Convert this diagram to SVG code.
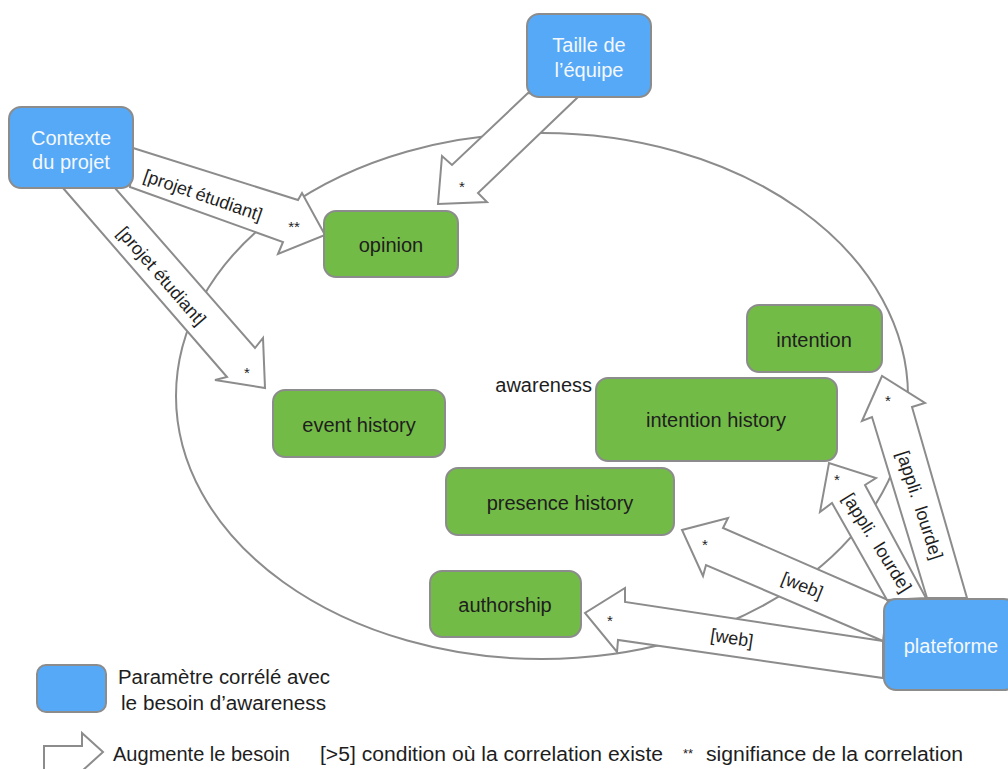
<svg xmlns="http://www.w3.org/2000/svg" width="1008" height="769" viewBox="0 0 1008 769">
  <style>
    .param { fill: #56A9F6; stroke: #8C8C8C; stroke-width: 2; }
    .aw { fill: #73BB47; stroke: #8C8C8C; stroke-width: 2; }
    .arrow { fill: #FFFFFF; stroke: #8C8C8C; stroke-width: 2; stroke-linejoin: miter; }
    .pt { font-family: "Liberation Sans", Arial, sans-serif; font-size: 20px; fill: #F4F8FD; text-anchor: middle; }
    .at { font-family: "Liberation Sans", Arial, sans-serif; font-size: 20px; fill: #1E1E1E; text-anchor: middle; }
    .lbl { font-family: "Liberation Sans", Arial, sans-serif; font-size: 18px; fill: #1E1E1E; text-anchor: middle; }
    .star { font-family: "Liberation Sans", Arial, sans-serif; font-size: 15px; fill: #1E1E1E; text-anchor: middle; }
    .leg { font-family: "Liberation Sans", Arial, sans-serif; font-size: 20px; fill: #1E1E1E; }
  </style>

  <rect width="1008" height="769" fill="#FFFFFF"/>

  <!-- awareness domain -->
  <ellipse id="awareness-domain" cx="542" cy="396" rx="366" ry="263" fill="none" stroke="#8C8C8C" stroke-width="2"/>
  <text class="at" x="592" y="392" style="text-anchor:end">awareness</text>

  <!-- block arrows -->
  <g id="connectors">
    <!-- Contexte du projet -> opinion -->
    <polygon class="arrow" points="133,148 298,200 302,193 325,235 278,254 283,242 130,187"/>
    <text class="lbl" transform="translate(201,201) rotate(19)">[projet étudiant]</text>
    <text class="star" x="294" y="232">**</text>

    <!-- Contexte du projet -> event history -->
    <polygon class="arrow" points="63,188 227,377 215,380 265,388 263,338 255,348 115,188"/>
    <text class="lbl" transform="translate(157,280) rotate(49)">[projet étudiant]</text>
    <text class="star" x="247" y="378">*</text>

    <!-- Taille de l'équipe -> opinion -->
    <polygon class="arrow" points="528,93 452,165 442,156 438,204 487,202 478,193 578,97"/>
    <text class="star" x="462" y="192">*</text>

    <!-- plateforme -> authorship -->
    <polygon class="arrow" points="883,641 625,602 625,588 585,613 617,652 618,640 883,678"/>
    <text class="lbl" transform="translate(731,644) rotate(8.5)">[web]</text>
    <text class="star" x="610" y="626">*</text>

    <!-- plateforme -> presence history -->
    <polygon class="arrow" points="888,600 723,528 728,518 682,530 703,576 706,565 883,641"/>
    <text class="lbl" transform="translate(800,591) rotate(22)">[web]</text>
    <text class="star" x="705" y="550">*</text>

    <!-- plateforme -> intention history -->
    <polygon class="arrow" points="887,600 832,503 820,512 829,463 876,478 865,485 926,598"/>
    <text class="lbl" transform="translate(872,546) rotate(58)">[appli.&#160; lourde]</text>
    <text class="star" x="837" y="485">*</text>

    <!-- plateforme -> intention -->
    <polygon class="arrow" points="927,598 872,417 862,421 882,376 925,403 912,407 967,598"/>
    <text class="lbl" transform="translate(914,507) rotate(72)">[appli.&#160; lourde]</text>
    <text class="star" x="888" y="406">*</text>
  </g>

  <!-- parameters -->
  <g id="contexte-du-projet">
    <rect class="param" x="9" y="107" width="124" height="81" rx="12"/>
    <text class="pt" x="71" y="145">Contexte</text>
    <text class="pt" x="71" y="169">du projet</text>
  </g>
  <g id="taille-equipe">
    <rect class="param" x="527" y="14" width="124" height="83" rx="12"/>
    <text class="pt" x="589" y="52">Taille de</text>
    <text class="pt" x="589" y="77">l’équipe</text>
  </g>
  <g id="plateforme">
    <rect class="param" x="884" y="599" width="132" height="91" rx="12"/>
    <text class="pt" x="951" y="653">plateforme</text>
  </g>

  <!-- awareness elements -->
  <g id="opinion">
    <rect class="aw" x="324" y="211" width="134" height="66" rx="12"/>
    <text class="at" x="391" y="252">opinion</text>
  </g>
  <g id="event-history">
    <rect class="aw" x="273" y="390" width="172" height="67" rx="12"/>
    <text class="at" x="359" y="432">event history</text>
  </g>
  <g id="intention">
    <rect class="aw" x="747" y="305" width="135" height="67" rx="12"/>
    <text class="at" x="814" y="347">intention</text>
  </g>
  <g id="intention-history">
    <rect class="aw" x="596" y="378" width="241" height="83" rx="12"/>
    <text class="at" x="716" y="427">intention history</text>
  </g>
  <g id="presence-history">
    <rect class="aw" x="446" y="468" width="228" height="67" rx="12"/>
    <text class="at" x="560" y="510">presence history</text>
  </g>
  <g id="authorship">
    <rect class="aw" x="430" y="571" width="151" height="66" rx="12"/>
    <text class="at" x="505" y="612">authorship</text>
  </g>

  <!-- legend -->
  <g id="legend">
    <rect class="param" x="37" y="665" width="69" height="47" rx="9"/>
    <text class="leg" x="118" y="684" textLength="212" lengthAdjust="spacingAndGlyphs">Paramètre corrélé avec</text>
    <text class="leg" x="121" y="710" textLength="205" lengthAdjust="spacingAndGlyphs">le besoin d’awareness</text>
    <polygon class="arrow" points="44,790 44,746 82,746 82,733 103,752 82,771"/>
    <text class="leg" x="113" y="761" textLength="177" lengthAdjust="spacingAndGlyphs">Augmente le besoin</text>
    <text class="leg" x="320" y="761" textLength="343" lengthAdjust="spacingAndGlyphs">[&gt;5] condition où la correlation existe</text>
    <text class="leg" x="683" y="758" style="font-size:13px">**</text>
    <text class="leg" x="706" y="761" textLength="257" lengthAdjust="spacingAndGlyphs">signifiance de la correlation</text>
  </g>
</svg>
